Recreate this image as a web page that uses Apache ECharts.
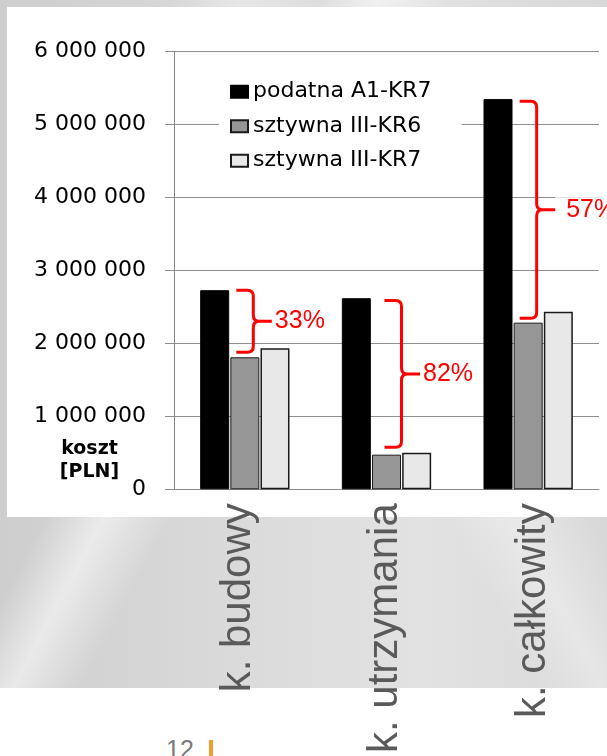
<!DOCTYPE html>
<html>
<head>
<meta charset="utf-8">
<script src="https://cdn.jsdelivr.net/npm/echarts@6/dist/echarts.min.js"></script>
<style>
  html, body { margin: 0; padding: 0; width: 607px; height: 756px; overflow: hidden; background: #fff; position: relative; }
  #bg { position: absolute; left: 0; top: 0; width: 607px; height: 688px;
    background:
      linear-gradient(118deg, rgba(255,255,255,0) 33%, rgba(255,255,255,0.55) 39%, rgba(255,255,255,0) 46%),
      linear-gradient(62deg, rgba(255,255,255,0) 55%, rgba(255,255,255,0.35) 62%, rgba(255,255,255,0) 70%),
      linear-gradient(90deg, #cecece 0%, #dcdcdc 45%, #e2e2e2 70%, #d8d8d8 100%); }
  #box { position: absolute; left: 7px; top: 7px; width: 600px; height: 510px; background: #fff; }
  #chart { position: absolute; left: 0; top: 0; width: 607px; height: 756px; }
  #pnum { position: absolute; left: 166px; top: 735px; font: 25px "Liberation Sans", Arial, sans-serif; color: #7a7a7a; }
  #pbar { position: absolute; left: 209px; top: 740px; width: 4px; height: 16px; background: #f39c27; }
</style>
</head>
<body>
<div id="bg"></div>
<div id="box"></div>
<div id="pnum">12</div>
<div id="pbar"></div>
<div id="chart"></div>
<script>
// ---- data ----
const categories = ['k. budowy', 'k. utrzymania', 'k. całkowity'];
const seriesNames = ['podatna A1-KR7', 'sztywna III-KR6', 'sztywna III-KR7'];
const podatnaA1KR7 = [2730000, 2620000, 5350000];
const sztywnaIIIKR6 = [1810000, 475000, 2285000];
const sztywnaIIIKR7 = [1935000, 500000, 2435000];
const bracketTop = [2730000, 2590000, 5320000];
const bracketBottom = [1880000, 575000, 2345000];
const bracketLabels = ['33%', '82%', '57%'];
const yMin = 0, yMax = 6000000, yStep = 1000000;
const axisTitle = 'koszt\n[PLN]';

// ---- styles (not data) ----
const bracketStyle = [
  { dx: 0, textPad: 3 },
  { dx: 6.5, textPad: 3 },
  { dx: 0, textPad: 11 }
];

const bracketData = categories.map((c, i) => [i, bracketTop[i], bracketBottom[i]]);

function fmt(v) {
  return String(v).replace(/\B(?=(\d{3})+(?!\d))/g, ' ');
}

function renderBracket(params, api) {
  const i = params.dataIndex;
  const cat = api.value(0);
  const p1 = api.coord([cat, api.value(1)]);
  const p2 = api.coord([cat, api.value(2)]);
  const s = bracketStyle[i];
  const cx = p1[0] + s.dx;
  const yT = p1[1], yB = p2[1], yM = (yT + yB) / 2;
  const x0 = cx - 8.5, xv = cx + 8.5, xt = cx + 27, r = 6;
  const d = 'M' + x0 + ' ' + yT +
    ' L' + (xv - r) + ' ' + yT +
    ' Q' + xv + ' ' + yT + ' ' + xv + ' ' + (yT + r) +
    ' L' + xv + ' ' + (yM - r) +
    ' Q' + xv + ' ' + yM + ' ' + (xv + r) + ' ' + yM +
    ' L' + xt + ' ' + yM +
    ' M' + (xv + r) + ' ' + yM +
    ' Q' + xv + ' ' + yM + ' ' + xv + ' ' + (yM + r) +
    ' L' + xv + ' ' + (yB - r) +
    ' Q' + xv + ' ' + yB + ' ' + (xv - r) + ' ' + yB +
    ' L' + x0 + ' ' + yB;
  return {
    type: 'group',
    children: [
      {
        type: 'text',
        x: xt,
        y: yM,
        style: {
          text: bracketLabels[i],
          fill: '#ff0000',
          font: '25px "Liberation Sans", Arial, sans-serif',
          align: 'left',
          verticalAlign: 'middle',
          backgroundColor: '#ffffff',
          padding: [0, 2, 0, s.textPad]
        }
      },
      {
        type: 'path',
        shape: { pathData: d },
        style: { fill: 'none', stroke: '#ff0000', lineWidth: 3, lineJoin: 'round', lineCap: 'butt' }
      }
    ]
  };
}

const chart = echarts.init(document.getElementById('chart'), null, { renderer: 'canvas' });
const option = {
  backgroundColor: 'transparent',
  animation: false,
  title: {
    text: axisTitle,
    left: 89.5,
    top: 437.5,
    padding: 0,
    textAlign: 'center',
    textStyle: { fontFamily: 'DejaVu Sans', fontWeight: 'bold', fontSize: 19, lineHeight: 23, color: '#000' }
  },
  legend: {
    orient: 'vertical',
    left: 219,
    top: 75.7,
    padding: [5, 30, 5, 11],
    backgroundColor: '#ffffff',
    itemWidth: 17,
    itemHeight: 12,
    itemGap: 12.5,
    selectedMode: false,
    icon: 'rect',
    data: seriesNames,
    textStyle: { fontFamily: 'DejaVu Sans', fontSize: 22, lineHeight: 22, color: '#000' }
  },
  grid: [
    { left: 174, right: 8, top: 51.7, bottom: 266.7, containLabel: false },
    { left: 164.3, right: -5.3, top: 51.7, bottom: 266.7, containLabel: false }
  ],
  xAxis: [
    {
      type: 'category', gridIndex: 0, data: categories,
      axisLine: { show: true, lineStyle: { color: '#8a8a8a', width: 1 } },
      axisTick: { show: false },
      axisLabel: { show: false }
    },
    {
      type: 'category', gridIndex: 1, data: categories,
      axisLine: { show: false },
      axisTick: { show: false },
      axisLabel: {
        show: true, interval: 0, rotate: 90, margin: 17,
        fontFamily: 'Liberation Sans', fontSize: 42, color: '#5a5a5a'
      }
    }
  ],
  yAxis: [
    {
      type: 'value', gridIndex: 0, min: yMin, max: yMax, interval: yStep,
      axisLine: { show: true, lineStyle: { color: '#8a8a8a', width: 1 } },
      axisTick: { show: true, length: 9, inside: false, lineStyle: { color: '#8a8a8a' } },
      splitLine: { show: true, lineStyle: { color: '#8f8f8f', width: 1 } },
      axisLabel: { margin: 28, formatter: fmt, fontFamily: 'DejaVu Sans', fontSize: 22, color: '#000' }
    },
    { type: 'value', gridIndex: 1, min: yMin, max: yMax, show: false }
  ],
  series: [
    {
      name: seriesNames[0], type: 'bar', xAxisIndex: 0, yAxisIndex: 0,
      data: podatnaA1KR7, barWidth: 29, barGap: '4%',
      itemStyle: { color: '#000000', borderColor: '#000000', borderWidth: 1 }
    },
    {
      name: seriesNames[1], type: 'bar', xAxisIndex: 0, yAxisIndex: 0,
      data: sztywnaIIIKR6, barWidth: 29, barGap: '4%',
      itemStyle: { color: '#969696', borderColor: '#1a1a1a', borderWidth: 1 }
    },
    {
      name: seriesNames[2], type: 'bar', xAxisIndex: 0, yAxisIndex: 0,
      data: sztywnaIIIKR7, barWidth: 29, barGap: '4%',
      itemStyle: { color: '#e8e8e8', borderColor: '#1a1a1a', borderWidth: 1.5 }
    },
    {
      type: 'custom', xAxisIndex: 0, yAxisIndex: 0,
      data: bracketData, renderItem: renderBracket, clip: false, z: 5,
      silent: true
    }
  ]
};
chart.setOption(option);
</script>
</body>
</html>
